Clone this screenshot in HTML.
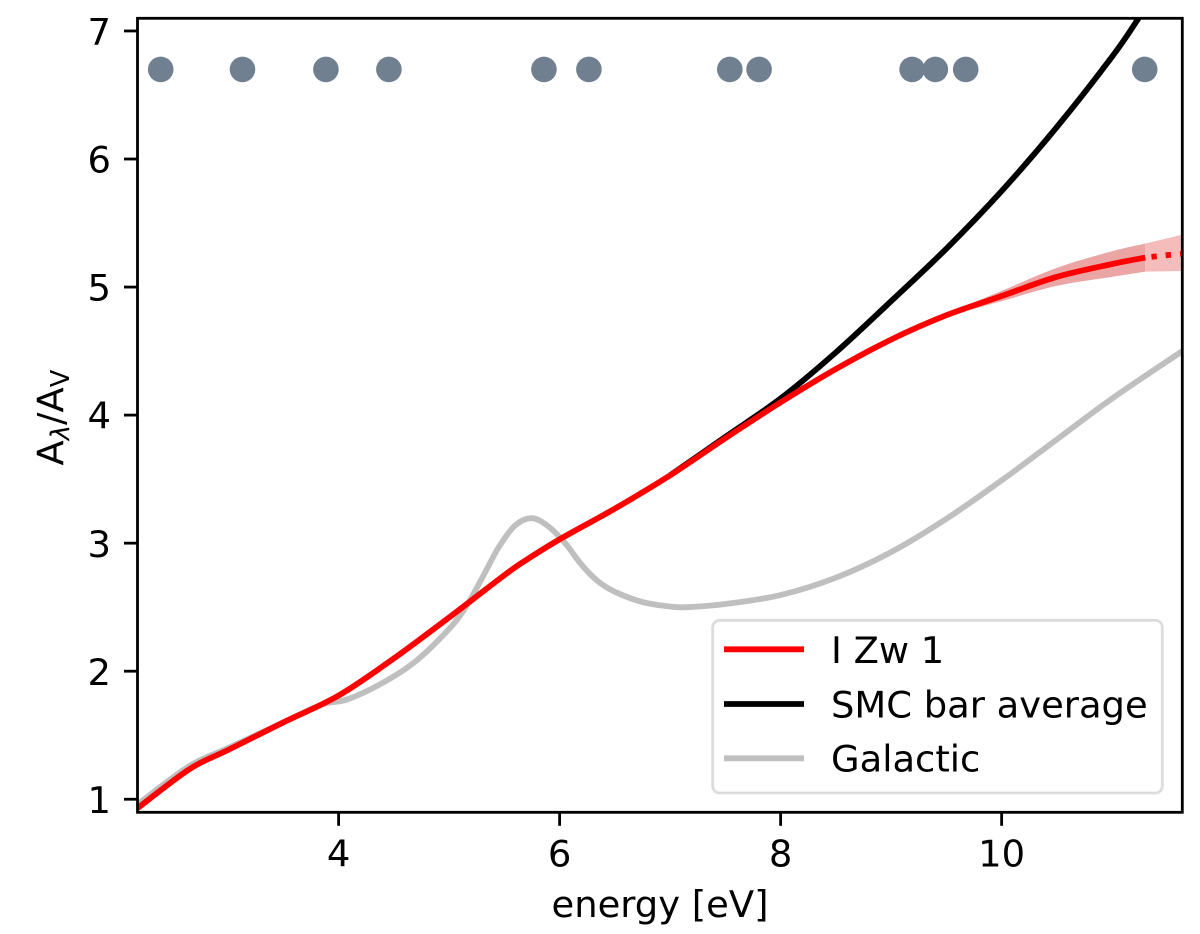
<!DOCTYPE html>
<html lang="en">
<head>
<meta charset="utf-8">
<title>Extinction curve of I Zw 1</title>
<style>
html,body{margin:0;padding:0;background:#fff;}
svg{display:block;}
text{font-family:"DejaVu Sans","Liberation Sans",sans-serif;fill:#000;}
</style>
</head>
<body>
<svg id="chart" xmlns="http://www.w3.org/2000/svg" width="1200" height="934" viewBox="0 0 1200 934">
  <defs>
    <clipPath id="plot-clip"><rect x="137.5" y="18.3" width="1044.8" height="794"/></clipPath>
  </defs>
  <rect x="0" y="0" width="1200" height="934" fill="#fff"/>
  <g id="marks" clip-path="url(#plot-clip)"></g>
  <g id="ticks"></g>
  <rect x="137.5" y="18.3" width="1044.8" height="794" fill="none" stroke="#000" stroke-width="2.8"/>
  <text x="660" y="917" font-size="36.9" text-anchor="middle">energy [eV]</text>
  <text transform="translate(63.3,465.5) rotate(-90)" font-size="36.9">A<tspan font-size="25.8" font-style="italic" dy="5.5">λ</tspan><tspan dy="-5.5">/A</tspan><tspan font-size="25.8" dy="5.5">V</tspan></text>
  <g>
    <rect x="712.7" y="620.3" width="449.6" height="172.7" rx="7" ry="7" fill="#fff" fill-opacity="0.8" stroke="#dcdcdc" stroke-width="2.8"/>
    <line x1="724" x2="804" y1="649.3" y2="649.3" stroke="#ff0000" stroke-width="5.8"/>
    <text x="831" y="663" font-size="36.9">I Zw 1</text>
    <line x1="724" x2="804" y1="704" y2="704" stroke="#000" stroke-width="5.8"/>
    <text x="831" y="717.5" font-size="36.9">SMC bar average</text>
    <line x1="724" x2="804" y1="758.3" y2="758.3" stroke="#bfbfbf" stroke-width="5.8"/>
    <text x="831" y="771.5" font-size="36.9">Galactic</text>
  </g>
</svg>
<script>
const xTickValues = [4, 6, 8, 10];
const yTickValues = [1, 2, 3, 4, 5, 6, 7];
const markerEnergies = [2.39, 3.13, 3.885, 4.455, 5.858, 6.265, 7.54, 7.805, 9.19, 9.40, 9.675, 11.295];
const markerLevel = 6.70;
const galacticEnergy = [2.18, 2.65, 3.0, 3.5, 3.85, 4.08, 4.4, 4.7, 5.0, 5.15, 5.3, 5.45, 5.6, 5.75, 5.9, 6.05, 6.2, 6.35, 6.5, 6.75, 7.0, 7.15, 7.5, 8.0, 8.5, 9.0, 9.5, 10.0, 10.5, 11.0, 11.635];
const galacticValues = [0.96, 1.26, 1.40, 1.60, 1.74, 1.78, 1.91, 2.08, 2.33, 2.50, 2.73, 2.97, 3.14, 3.195, 3.13, 3.00, 2.83, 2.70, 2.62, 2.54, 2.505, 2.50, 2.525, 2.595, 2.73, 2.93, 3.19, 3.49, 3.81, 4.13, 4.50];
const smcEnergy = [7.0, 7.5, 8.0, 8.5, 9.0, 9.5, 10.0, 10.5, 11.0, 11.24, 11.4];
const smcValues = [3.53, 3.83, 4.13, 4.49, 4.89, 5.30, 5.75, 6.25, 6.80, 7.10, 7.31];
const redEnergy = [2.18, 2.65, 3.0, 3.5, 4.0, 4.5, 5.0, 5.5, 5.7, 6.0, 6.5, 7.0, 7.5, 8.0, 8.5, 9.0, 9.5, 10.0, 10.5, 11.0, 11.3];
const redValues = [0.93, 1.235, 1.385, 1.60, 1.81, 2.10, 2.42, 2.75, 2.87, 3.03, 3.27, 3.53, 3.82, 4.10, 4.36, 4.59, 4.78, 4.93, 5.08, 5.18, 5.23];
const redExtrapEnergy = [11.3, 11.45, 11.635];
const redExtrapValues = [5.23, 5.245, 5.26];
const bandEnergy = [9.5, 10.0, 10.5, 11.0, 11.3];
const bandUpper = [4.79, 4.97, 5.15, 5.28, 5.34];
const bandLower = [4.77, 4.89, 5.01, 5.08, 5.12];
const bandExtrapEnergy = [11.3, 11.635];
const bandExtrapUpper = [5.34, 5.41];
const bandExtrapLower = [5.12, 5.125];

const X_MIN = 2.18, X_MAX = 11.635, Y_MIN = 0.898, Y_MAX = 7.099;
const LEFT = 137.5, RIGHT = 1182.3, TOP = 18.3, BOTTOM = 812.3;
function xScale(e) { return LEFT + (e - X_MIN) / (X_MAX - X_MIN) * (RIGHT - LEFT); }
function yScale(v) { return BOTTOM - (v - Y_MIN) / (Y_MAX - Y_MIN) * (BOTTOM - TOP); }
const NS = 'http://www.w3.org/2000/svg';
function svgEl(tag, parent) {
  const el = document.createElementNS(NS, tag);
  parent.appendChild(el);
  return el;
}
function pts(xs, ys) { return xs.map(function (e, i) { return [xScale(e), yScale(ys[i])]; }); }
function smooth(p) {
  let d = 'M' + p[0][0].toFixed(2) + ' ' + p[0][1].toFixed(2);
  for (let i = 0; i < p.length - 1; i++) {
    const a = p[Math.max(0, i - 1)], b = p[i], c = p[i + 1], f = p[Math.min(p.length - 1, i + 2)];
    const c1x = b[0] + (c[0] - a[0]) / 6, c1y = b[1] + (c[1] - a[1]) / 6;
    const c2x = c[0] - (f[0] - b[0]) / 6, c2y = c[1] - (f[1] - b[1]) / 6;
    d += 'C' + c1x.toFixed(2) + ' ' + c1y.toFixed(2) + ' ' + c2x.toFixed(2) + ' ' + c2y.toFixed(2) + ' ' + c[0].toFixed(2) + ' ' + c[1].toFixed(2);
  }
  return d;
}
function bandPath(xs, up, lo) {
  const top = pts(xs, up), bottom = pts(xs, lo).reverse();
  return smooth(top) + 'L' + smooth(bottom).slice(1) + 'Z';
}

const marks = document.getElementById('marks');
const ticks = document.getElementById('ticks');

const galactic = svgEl('path', marks);


galactic.setAttribute('d', smooth(pts(galacticEnergy, galacticValues)));
galactic.setAttribute('fill', 'none');
galactic.setAttribute('stroke', '#bfbfbf');
galactic.setAttribute('stroke-width', '5.8');

const smc = svgEl('path', marks);


smc.setAttribute('d', smooth(pts(smcEnergy, smcValues)));
smc.setAttribute('fill', 'none');
smc.setAttribute('stroke', '#000');
smc.setAttribute('stroke-width', '5.8');

const band = svgEl('path', marks);


band.setAttribute('d', bandPath(bandEnergy, bandUpper, bandLower));
band.setAttribute('fill', '#eba5a5');

const bandExtrap = svgEl('path', marks);


bandExtrap.setAttribute('d', bandPath(bandExtrapEnergy, bandExtrapUpper, bandExtrapLower));
bandExtrap.setAttribute('fill', '#f5bcbc');

const red = svgEl('path', marks);


red.setAttribute('d', smooth(pts(redEnergy, redValues)));
red.setAttribute('fill', 'none');
red.setAttribute('stroke', '#ff0000');
red.setAttribute('stroke-width', '5.8');

const redExtrap = svgEl('path', marks);


redExtrap.setAttribute('d', smooth(pts(redExtrapEnergy, redExtrapValues)));
redExtrap.setAttribute('fill', 'none');
redExtrap.setAttribute('stroke', '#ff0000');
redExtrap.setAttribute('stroke-width', '5.8');
redExtrap.setAttribute('stroke-dasharray', '5.3 9');
redExtrap.setAttribute('stroke-dashoffset', '-6.3');

markerEnergies.forEach(function (e) {
  const dot = svgEl('circle', marks);
  
  
  dot.setAttribute('cx', xScale(e));
  dot.setAttribute('cy', yScale(markerLevel));
  dot.setAttribute('r', '12.8');
  dot.setAttribute('fill', '#708090');
});

xTickValues.forEach(function (t) {
  const mark = svgEl('line', ticks);
  
  
  mark.setAttribute('x1', xScale(t));
  mark.setAttribute('x2', xScale(t));
  mark.setAttribute('y1', BOTTOM);
  mark.setAttribute('y2', BOTTOM + 13.5);
  mark.setAttribute('stroke', '#000');
  mark.setAttribute('stroke-width', '2.8');
  const label = svgEl('text', ticks);
  
  
  label.setAttribute('x', xScale(t));
  label.setAttribute('y', 866.5);
  label.setAttribute('font-size', '36.9');
  label.setAttribute('text-anchor', 'middle');
  label.textContent = String(t);
});

yTickValues.forEach(function (t) {
  const mark = svgEl('line', ticks);
  
  
  mark.setAttribute('x1', LEFT - 13.5);
  mark.setAttribute('x2', LEFT);
  mark.setAttribute('y1', yScale(t));
  mark.setAttribute('y2', yScale(t));
  mark.setAttribute('stroke', '#000');
  mark.setAttribute('stroke-width', '2.8');
  const label = svgEl('text', ticks);
  
  
  label.setAttribute('x', 111);
  label.setAttribute('y', yScale(t) + 13.6);
  label.setAttribute('font-size', '36.9');
  label.setAttribute('text-anchor', 'end');
  label.textContent = String(t);
});
</script>
</body>
</html>
